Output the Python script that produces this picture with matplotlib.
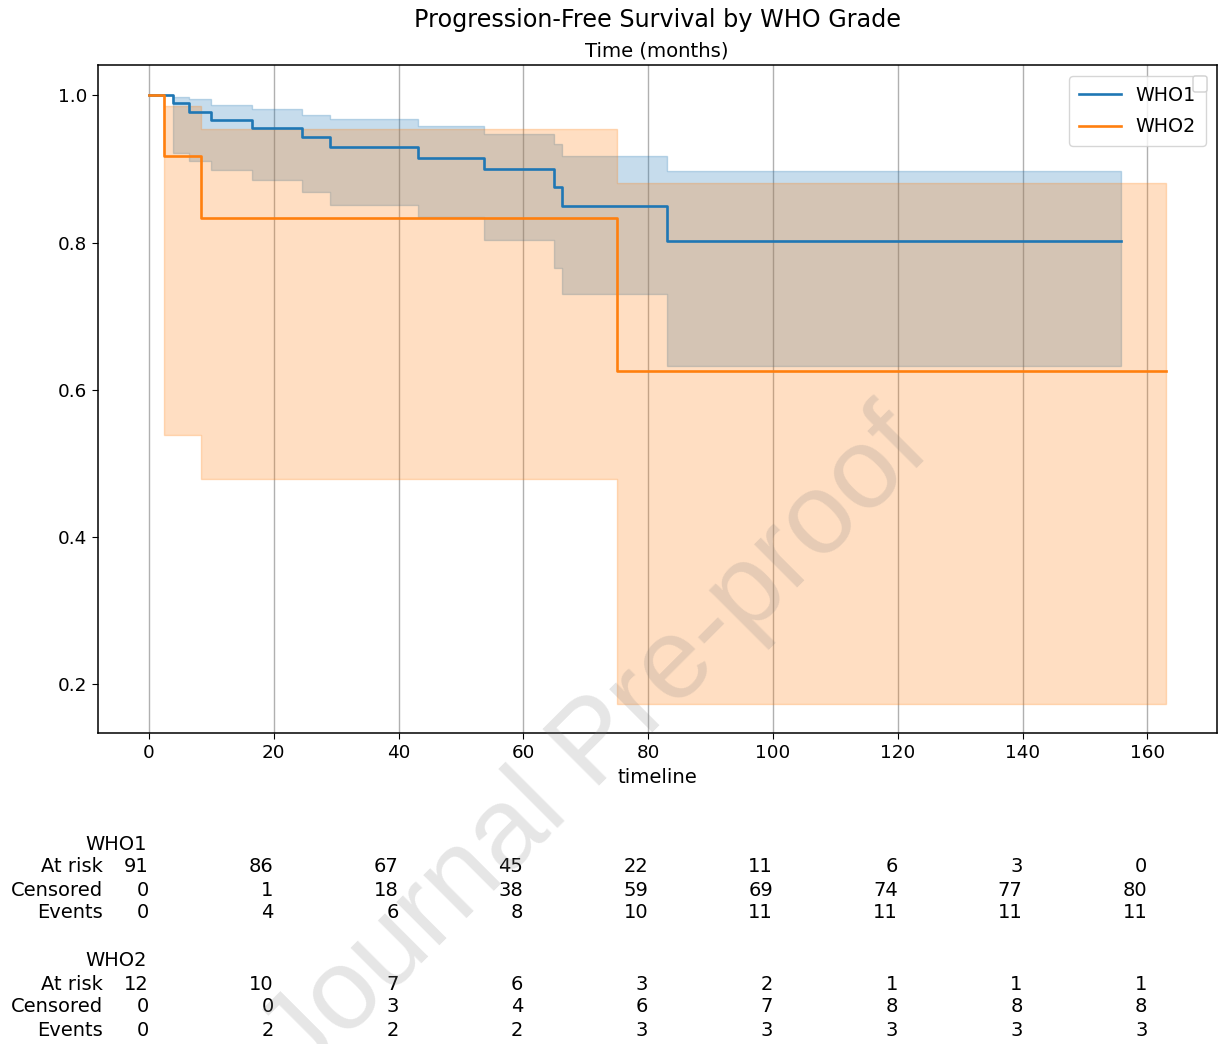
import matplotlib
matplotlib.use("Agg")
import matplotlib.pyplot as plt
from matplotlib.patches import FancyBboxPatch
import matplotlib.transforms as mtransforms

# ---- data ----
who1_times = [0, 3.9, 6.5, 9.9, 16.6, 24.5, 29.1, 43.2, 53.7, 64.9, 66.2, 83.1, 155.7]
who1_surv = [1.0, 0.989, 0.978, 0.967, 0.956, 0.943, 0.930, 0.915, 0.900, 0.876, 0.850, 0.802, 0.802]
who1_upper = [1.0, 0.998, 0.995, 0.987, 0.981, 0.974, 0.968, 0.958, 0.948, 0.934, 0.918, 0.897, 0.897]
who1_lower = [1.0, 0.922, 0.911, 0.898, 0.885, 0.869, 0.851, 0.835, 0.803, 0.765, 0.730, 0.632, 0.632]

who2_times = [0, 2.5, 8.3, 75.0, 163.0]
who2_surv = [1.0, 0.917, 0.833, 0.625, 0.625]
who2_upper = [1.0, 0.986, 0.954, 0.881, 0.881]
who2_lower = [1.0, 0.538, 0.479, 0.173, 0.173]

groups = ["WHO1", "WHO2"]
tick_times = [0, 20, 40, 60, 80, 100, 120, 140, 160]
row_names = ["At risk", "Censored", "Events"]
who1_at_risk = [91, 86, 67, 45, 22, 11, 6, 3, 0]
who1_censored = [0, 1, 18, 38, 59, 69, 74, 77, 80]
who1_events = [0, 4, 6, 8, 10, 11, 11, 11, 11]
who2_at_risk = [12, 10, 7, 6, 3, 2, 1, 1, 1]
who2_censored = [0, 0, 3, 4, 6, 7, 8, 8, 8]
who2_events = [0, 2, 2, 2, 3, 3, 3, 3, 3]

W, H = 1219, 1044
fs_tick = 13.2
fs_lab = 14.1
fs_tab = 14.0
fig = plt.figure(figsize=(W / 100, H / 100), dpi=100)
ax = fig.add_axes([98 / W, 1 - 733 / H, (1217 - 98) / W, (733 - 65) / H])

colors = ["#1f77b4", "#ff7f0e"]
series = [
    (who1_times, who1_surv, who1_lower, who1_upper),
    (who2_times, who2_surv, who2_lower, who2_upper),
]
for (t, s, lo, up), c in zip(series, colors):
    ax.fill_between(t, lo, up, step="post", color=c, alpha=0.25, linewidth=1.0)
for (t, s, lo, up), c, name in zip(series, colors, groups):
    ax.plot(t, s, drawstyle="steps-post", color=c, lw=1.9, label=name)

ax.set_xlim(-8.15, 171.15)
ax.set_ylim(0.1333, 1.0413)
ax.set_xticks(tick_times)
ax.set_yticks([0.2, 0.4, 0.6, 0.8, 1.0])
ax.tick_params(labelsize=fs_tick, length=4.5)
ax.grid(axis="x", color="#b0b0b0", lw=1.0)
ax.set_axisbelow(True)
ax.set_xlabel("timeline", fontsize=fs_lab, labelpad=4)
for sp in ax.spines.values():
    sp.set_linewidth(1.1)

leg = ax.legend(loc="upper right", fontsize=13.7, handlelength=2.2,
                borderpad=0.5, labelspacing=0.65, borderaxespad=0.6)
# small empty legend frame seen in the top-right corner
fig.patches.append(FancyBboxPatch((1193 / W, 1 - 92 / H), 14 / W, 16 / H,
                                  boxstyle="round,pad=0,rounding_size=0.002",
                                  transform=fig.transFigure, facecolor="white",
                                  edgecolor="#d0d0d0", lw=1.0, zorder=10))

fig.text(657 / W, 1 - 20 / H, "Progression-Free Survival by WHO Grade",
         ha="center", va="center", fontsize=17.2)
fig.text(657 / W, 1 - 51 / H, "Time (months)", ha="center", va="center", fontsize=fs_lab)

# ---- at-risk table ----
trans = mtransforms.blended_transform_factory(ax.transData, fig.transFigure)
tables = [
    ("WHO1", [who1_at_risk, who1_censored, who1_events], [844, 867, 890, 913]),
    ("WHO2", [who2_at_risk, who2_censored, who2_events], [961, 984, 1007, 1030]),
]
for gname, rows, ys in tables:
    fig.text(147 / W, 1 - ys[0] / H, gname, ha="right", va="center", fontsize=fs_tab)
    for rname, vals, y in zip(row_names, rows, ys[1:]):
        fig.text(103 / W, 1 - y / H, rname, ha="right", va="center", fontsize=fs_tab)
        for tt, v in zip(tick_times, vals):
            ax.text(tt, 1 - y / H, str(v), transform=trans, ha="right",
                    va="center", fontsize=fs_tab, clip_on=False)

# watermark
fig.text(618 / W, 1 - 767 / H, "Journal Pre-proof", rotation=45,
         rotation_mode="anchor", ha="center", va="baseline",
         fontsize=83, color="gray", alpha=0.2,
         family="Liberation Sans", zorder=20)

fig.savefig("out.png", dpi=100)
